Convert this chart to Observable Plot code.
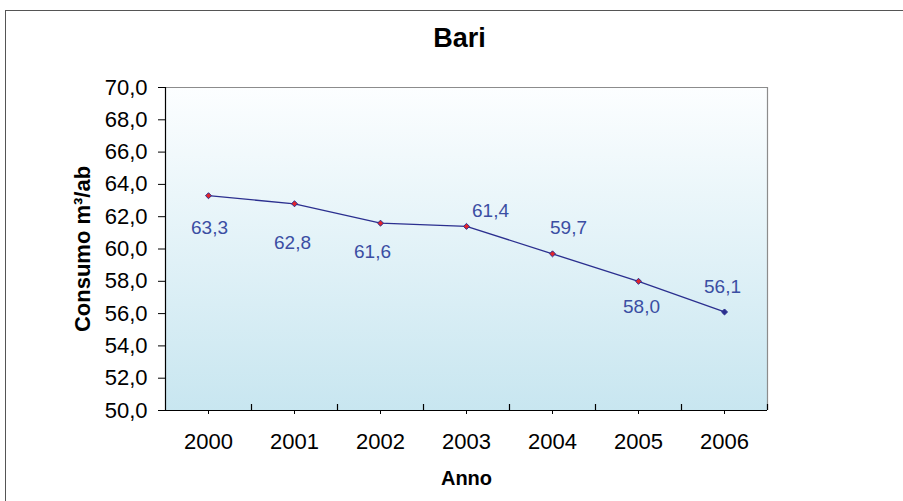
<!DOCTYPE html>
<html>
<head>
<meta charset="utf-8">
<script src="https://cdn.jsdelivr.net/npm/d3@7"></script>
<script src="https://cdn.jsdelivr.net/npm/@observablehq/plot@0.6"></script>
<style>
  html, body { margin: 0; padding: 0; background: #fff; overflow: hidden; }
  #wrap { position: relative; width: 903px; height: 501px; }
  #border { position: absolute; left: 5px; top: 10px; width: 1200px; height: 1200px;
            border-left: 1.5px solid #555; border-top: 1.5px solid #555; box-sizing: border-box; }
  #chart { position: absolute; left: 0; top: 0; }
</style>
</head>
<body>
<div id="wrap"><div id="border"></div><div id="chart"></div></div>
<script>
// ---- data ----
const title = "Bari";
const xLabel = "Anno";
const yLabel = "Consumo m³/ab";
const years = [2000, 2001, 2002, 2003, 2004, 2005, 2006];
const consumo = [63.3, 62.8, 61.6, 61.4, 59.7, 58.0, 56.1];
const yTicks = [50, 52, 54, 56, 58, 60, 62, 64, 66, 68, 70];

// ---- style (label nudges in px) ----
const labelNudge = [[1, 32], [-2, 39], [-8, 29], [24, -15], [16, -26], [3, 26], [-2, -25]];
const markerFill = ["#e3242b", "#e3242b", "#e3242b", "#e3242b", "#e3242b", "#e3242b", "#2b2f8f"];

const fmt = v => v.toFixed(1).replace(".", ",");
const rows = years.map((y, i) => ({year: y, value: consumo[i], label: fmt(consumo[i]), fill: markerFill[i]}));
const boundaries = d3.range(years.length + 1).map(i => years[0] - 0.5 + i);

const font = "'Liberation Sans', Arial, sans-serif";

// square diamond (rotated square) symbol
const squareDiamond = {
  draw(context, size) {
    const r = Math.sqrt(size / 2);
    context.moveTo(0, -r);
    context.lineTo(r, 0);
    context.lineTo(0, r);
    context.lineTo(-r, 0);
    context.closePath();
  }
};

const labelMarks = rows.map((r, i) => Plot.text([r], {
  x: "year", y: "value", text: "label",
  dx: labelNudge[i][0], dy: labelNudge[i][1],
  fill: "#3b4ea3", fontSize: 19, textAnchor: "middle", lineAnchor: "middle"
}));

const chart = Plot.plot({
  width: 903,
  height: 501,
  marginLeft: 165,
  marginRight: 136,
  marginTop: 87,
  marginBottom: 91,
  style: {fontFamily: font, background: "transparent", overflow: "visible"},
  x: {type: "linear", domain: [boundaries[0], boundaries[boundaries.length - 1]]},
  y: {domain: [50, 70]},
  marks: [
    Plot.frame({fill: "url(#bgGrad)", stroke: "none"}),
    Plot.ruleY([70], {stroke: "#8c8c8c", strokeWidth: 1.2}),
    Plot.ruleX([boundaries[boundaries.length - 1]], {stroke: "#8c8c8c", strokeWidth: 1.2}),
    Plot.axisY({ticks: yTicks, tickFormat: fmt, tickSize: 7, tickPadding: 11, fontSize: 22,
                label: null, stroke: "#000", fill: "#000"}),
    Plot.axisX({ticks: years, tickFormat: d => String(d), tickSize: 4, tickPadding: 19, fontSize: 22,
                label: null, stroke: "#000", fill: "#000"}),
    Plot.tickX(boundaries.slice(1), {x: d => d, insetTop: 323 - 6, stroke: "#000", strokeWidth: 1.2}),
    Plot.ruleX([boundaries[0]], {stroke: "#000", strokeWidth: 1.2}),
    Plot.ruleY([50], {stroke: "#000", strokeWidth: 1.2, insetLeft: -7}),
    Plot.line(rows, {x: "year", y: "value", stroke: "#2b2f8f", strokeWidth: 1.3}),
    Plot.dot(rows, {x: "year", y: "value", symbol: squareDiamond, r: 2.4, fill: "fill", stroke: "#2b2f8f", strokeWidth: 1}),
    ...labelMarks,
    Plot.text([title], {frameAnchor: "top", dx: -7, dy: -49, fontSize: 27, fontWeight: "bold",
                        fill: "#000", textAnchor: "middle", lineAnchor: "middle"}),
    Plot.text([xLabel], {frameAnchor: "bottom", dy: 68, fontSize: 20, fontWeight: "bold",
                         fill: "#000", textAnchor: "middle", lineAnchor: "middle"}),
    Plot.text([yLabel], {frameAnchor: "left", dx: -83, rotate: -90, fontSize: 22, fontWeight: "bold",
                         fill: "#000", textAnchor: "middle", lineAnchor: "middle"})
  ]
});

const svg = d3.select(chart);
const defs = svg.insert("defs", ":first-child");
const g = defs.append("linearGradient").attr("id", "bgGrad")
  .attr("x1", 0).attr("y1", 0).attr("x2", 0).attr("y2", 1);
g.append("stop").attr("offset", "0%").attr("stop-color", "#fcfeff");
g.append("stop").attr("offset", "100%").attr("stop-color", "#c8e6f0");

document.getElementById("chart").appendChild(chart);
</script>
</body>
</html>
